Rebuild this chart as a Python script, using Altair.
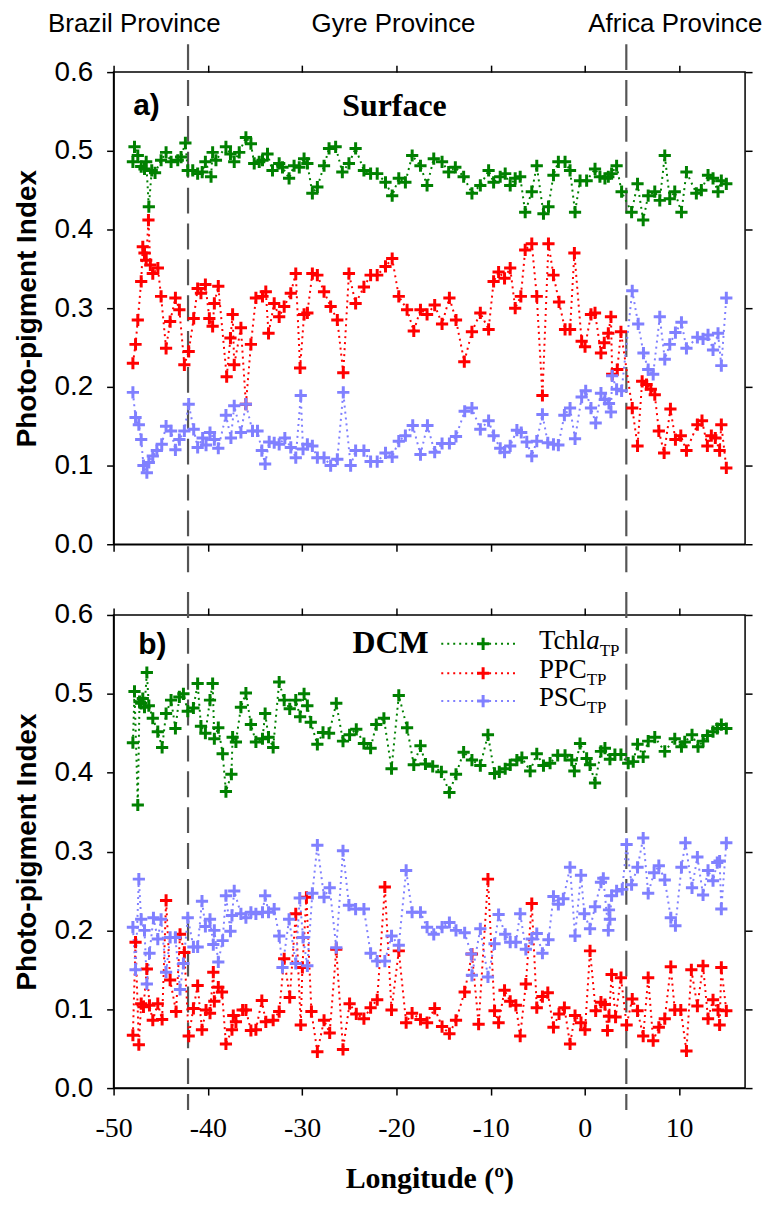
import altair as alt
import pandas as pd

# ---------------- data ----------------
series_names = ["Tchla", "PPC", "PSC"]
series_colors = ["#008000", "#ff0000", "#8080ff"]
x_ticks = [-50, -40, -30, -20, -10, 0, 10]
y_ticks = [0.0, 0.1, 0.2, 0.3, 0.4, 0.5, 0.6]
province_names = ["Brazil Province", "Gyre Province", "Africa Province"]
province_centers = [-47.8, -20.3, 9.6]
province_bounds = [-42.1, 4.4]

surf_tchla = [(-47.95,0.486),(-47.78,0.505),(-47.43,0.494),(-47.07,0.480),(-46.72,0.477),(-46.54,0.486),(-46.26,0.429),(-45.95,0.475),(-45.6,0.472),(-44.96,0.488),(-44.43,0.498),(-43.9,0.486),(-43.19,0.488),(-42.84,0.492),(-42.38,0.510),(-42.13,0.475),(-41.6,0.475),(-41.08,0.471),(-40.6,0.473),(-40.26,0.486),(-39.66,0.467),(-39.49,0.498),(-39.14,0.488),(-38.08,0.505),(-37.6,0.496),(-37.2,0.486),(-36.67,0.498),(-35.96,0.517),(-35.43,0.509),(-35.08,0.484),(-34.55,0.486),(-34.2,0.488),(-33.67,0.496),(-33.14,0.475),(-32.43,0.484),(-32.08,0.479),(-31.38,0.465),(-30.85,0.481),(-30.3,0.479),(-29.79,0.490),(-29.44,0.484),(-28.91,0.446),(-28.38,0.454),(-27.67,0.481),(-27.14,0.503),(-26.44,0.505),(-25.73,0.473),(-25.03,0.484),(-24.32,0.503),(-23.44,0.475),(-22.73,0.471),(-22.03,0.471),(-21.15,0.460),(-20.44,0.443),(-19.74,0.465),(-19.04,0.460),(-18.32,0.494),(-17.44,0.481),(-16.74,0.456),(-16.03,0.490),(-15.15,0.486),(-14.45,0.473),(-13.74,0.479),(-12.86,0.467),(-11.98,0.446),(-11.09,0.456),(-10.21,0.475),(-9.68,0.460),(-8.98,0.467),(-8.45,0.471),(-7.92,0.456),(-7.39,0.465),(-6.86,0.467),(-6.33,0.422),(-5.63,0.448),(-5.1,0.481),(-4.39,0.420),(-3.86,0.429),(-3.33,0.469),(-2.81,0.486),(-2.1,0.486),(-1.57,0.475),(-1.04,0.422),(-0.51,0.462),(0.19,0.462),(1.08,0.477),(1.6,0.467),(2.13,0.465),(2.49,0.467),(2.84,0.471),(3.37,0.481),(3.9,0.448),(4.96,0.422),(5.59,0.458),(6.19,0.412),(6.72,0.443),(7.42,0.448),(7.95,0.437),(8.48,0.494),(9.01,0.439),(9.54,0.448),(10.25,0.422),(10.78,0.473),(11.83,0.446),(12.36,0.450),(13.07,0.469),(13.6,0.465),(14.13,0.448),(14.48,0.462),(15.01,0.458)]

surf_ppc = [(-47.95,0.230),(-47.67,0.254),(-47.43,0.285),(-47.07,0.334),(-46.9,0.378),(-46.72,0.370),(-46.54,0.361),(-46.3,0.412),(-46.1,0.355),(-45.84,0.344),(-45.3,0.351),(-44.96,0.315),(-44.43,0.249),(-44.0,0.283),(-43.44,0.313),(-43.02,0.298),(-42.49,0.228),(-42.03,0.245),(-41.5,0.287),(-41.08,0.325),(-40.73,0.319),(-40.26,0.330),(-39.84,0.287),(-39.49,0.277),(-39.31,0.306),(-38.89,0.328),(-38.0,0.213),(-37.6,0.262),(-37.37,0.292),(-37.2,0.228),(-36.49,0.275),(-35.96,0.178),(-35.43,0.254),(-34.9,0.313),(-34.2,0.315),(-33.85,0.321),(-33.56,0.268),(-32.96,0.306),(-32.43,0.289),(-31.9,0.302),(-31.2,0.319),(-30.67,0.344),(-30.21,0.224),(-29.79,0.292),(-29.44,0.294),(-28.91,0.344),(-28.38,0.342),(-27.67,0.321),(-26.97,0.302),(-26.26,0.285),(-25.63,0.218),(-25.03,0.344),(-24.32,0.306),(-23.44,0.327),(-22.73,0.342),(-22.03,0.342),(-21.15,0.353),(-20.44,0.363),(-19.74,0.315),(-18.86,0.298),(-18.15,0.271),(-17.44,0.298),(-16.74,0.292),(-15.93,0.304),(-15.15,0.280),(-14.37,0.313),(-13.67,0.285),(-12.79,0.232),(-11.98,0.270),(-11.09,0.294),(-10.21,0.273),(-9.68,0.334),(-9.15,0.346),(-8.52,0.338),(-7.92,0.351),(-7.39,0.300),(-6.79,0.315),(-6.33,0.374),(-5.63,0.382),(-5.1,0.315),(-4.5,0.189),(-3.86,0.382),(-3.33,0.342),(-2.74,0.308),(-2.1,0.273),(-1.57,0.273),(-1.11,0.370),(-0.34,0.258),(0.02,0.251),(0.65,0.292),(1.08,0.294),(1.71,0.243),(2.06,0.256),(2.49,0.268),(2.77,0.289),(2.9,0.216),(3.44,0.222),(3.83,0.270),(5.03,0.173),(5.59,0.125),(6.08,0.207),(6.54,0.203),(7.0,0.197),(7.42,0.190),(7.85,0.144),(8.41,0.116),(9.08,0.172),(9.61,0.133),(10.18,0.138),(10.78,0.119),(11.94,0.152),(12.43,0.157),(13.0,0.125),(13.42,0.138),(13.84,0.135),(14.3,0.119),(14.48,0.152),(15.01,0.097)]

surf_psc = [(-47.95,0.193),(-47.67,0.161),(-47.32,0.152),(-47.07,0.133),(-46.83,0.100),(-46.47,0.091),(-46.26,0.104),(-45.84,0.112),(-45.41,0.119),(-44.89,0.127),(-44.43,0.150),(-43.9,0.144),(-43.44,0.120),(-43.02,0.133),(-42.49,0.144),(-42.03,0.178),(-41.5,0.146),(-41.08,0.123),(-40.55,0.135),(-40.19,0.126),(-39.77,0.142),(-39.31,0.133),(-38.89,0.122),(-38.08,0.164),(-37.55,0.135),(-37.2,0.176),(-36.49,0.142),(-35.96,0.178),(-35.26,0.144),(-34.73,0.144),(-34.27,0.119),(-33.92,0.102),(-33.49,0.130),(-32.96,0.129),(-32.43,0.127),(-31.83,0.135),(-31.2,0.123),(-30.67,0.110),(-30.14,0.189),(-29.9,0.121),(-29.44,0.127),(-28.91,0.125),(-28.38,0.110),(-27.67,0.110),(-26.97,0.100),(-26.26,0.108),(-25.63,0.193),(-24.85,0.100),(-24.32,0.119),(-23.44,0.119),(-22.73,0.105),(-22.03,0.105),(-21.15,0.116),(-20.44,0.111),(-19.74,0.131),(-19.04,0.138),(-18.26,0.151),(-17.44,0.114),(-16.7,0.151),(-15.93,0.117),(-15.15,0.128),(-14.37,0.128),(-13.67,0.137),(-12.75,0.169),(-11.98,0.173),(-11.09,0.146),(-10.21,0.157),(-9.68,0.138),(-8.98,0.122),(-8.52,0.117),(-7.92,0.125),(-7.21,0.145),(-6.75,0.142),(-6.16,0.130),(-5.63,0.112),(-5.1,0.131),(-4.5,0.165),(-3.93,0.129),(-3.33,0.127),(-2.81,0.126),(-2.17,0.164),(-1.57,0.173),(-1.04,0.134),(-0.34,0.187),(0.09,0.195),(0.65,0.173),(1.15,0.154),(1.71,0.192),(2.13,0.184),(2.56,0.179),(2.77,0.168),(2.9,0.214),(3.37,0.197),(3.9,0.195),(5.03,0.322),(5.66,0.280),(6.22,0.243),(6.72,0.222),(7.25,0.216),(7.95,0.289),(8.48,0.235),(9.01,0.254),(9.61,0.269),(10.25,0.282),(10.78,0.249),(11.94,0.263),(12.54,0.261),(13.07,0.266),(13.6,0.247),(14.13,0.268),(14.48,0.227),(15.01,0.313)]

dcm_tchla = [(-47.95,0.438),(-47.78,0.503),(-47.43,0.359),(-47.25,0.490),(-47.07,0.488),(-46.9,0.494),(-46.72,0.483),(-46.47,0.527),(-46.26,0.485),(-45.84,0.469),(-45.31,0.452),(-44.85,0.432),(-44.43,0.475),(-43.9,0.492),(-43.44,0.456),(-43.02,0.496),(-42.59,0.500),(-42.13,0.478),(-41.53,0.482),(-41.08,0.513),(-40.73,0.459),(-40.26,0.450),(-39.77,0.492),(-39.49,0.513),(-39.31,0.443),(-38.89,0.457),(-38.43,0.424),(-38.08,0.376),(-37.5,0.398),(-37.37,0.445),(-37.02,0.439),(-36.49,0.483),(-35.96,0.501),(-35.43,0.461),(-34.9,0.439),(-34.2,0.443),(-33.92,0.475),(-33.56,0.445),(-33.07,0.432),(-32.43,0.515),(-31.9,0.492),(-31.31,0.481),(-30.67,0.492),(-30.21,0.471),(-29.79,0.500),(-29.44,0.485),(-29.08,0.464),(-28.38,0.436),(-27.78,0.451),(-27.14,0.450),(-26.37,0.488),(-25.66,0.440),(-24.96,0.448),(-24.25,0.455),(-23.44,0.437),(-22.73,0.431),(-22.13,0.461),(-21.32,0.469),(-20.51,0.405),(-19.74,0.498),(-18.86,0.457),(-18.15,0.410),(-17.44,0.434),(-16.91,0.411),(-16.14,0.408),(-15.22,0.401),(-14.37,0.375),(-13.67,0.398),(-12.86,0.426),(-11.98,0.416),(-11.09,0.409),(-10.28,0.448),(-9.58,0.399),(-9.08,0.401),(-8.45,0.405),(-7.92,0.410),(-7.21,0.416),(-6.68,0.419),(-5.8,0.402),(-5.1,0.424),(-4.39,0.409),(-3.69,0.412),(-2.88,0.422),(-2.1,0.422),(-1.39,0.416),(-1.11,0.402),(-0.51,0.437),(0.19,0.418),(0.55,0.410),(1.08,0.387),(1.71,0.427),(2.13,0.431),(2.66,0.417),(3.19,0.423),(3.83,0.423),(4.6,0.412),(5.13,0.414),(5.59,0.436),(6.19,0.420),(6.72,0.440),(7.42,0.445),(8.48,0.427),(9.54,0.443),(10.25,0.433),(10.6,0.439),(11.37,0.448),(12.01,0.433),(12.54,0.440),(13.0,0.447),(13.6,0.452),(14.05,0.456),(14.48,0.461),(15.01,0.456)]

dcm_ppc = [(-47.95,0.067),(-47.67,0.185),(-47.32,0.055),(-47.07,0.107),(-46.83,0.103),(-46.47,0.151),(-46.19,0.105),(-45.84,0.086),(-45.31,0.107),(-44.85,0.087),(-44.43,0.238),(-44.0,0.137),(-43.37,0.097),(-42.95,0.195),(-42.49,0.172),(-42.03,0.066),(-41.53,0.101),(-41.08,0.130),(-40.62,0.074),(-40.19,0.099),(-39.77,0.095),(-39.42,0.147),(-39.31,0.110),(-38.89,0.128),(-38.5,0.122),(-38.08,0.056),(-37.44,0.074),(-37.3,0.092),(-37.02,0.084),(-36.31,0.099),(-35.96,0.099),(-35.43,0.073),(-34.9,0.074),(-34.27,0.111),(-33.85,0.084),(-33.07,0.086),(-32.43,0.097),(-31.9,0.164),(-31.31,0.115),(-30.67,0.221),(-30.14,0.080),(-29.97,0.153),(-29.54,0.242),(-29.01,0.097),(-28.38,0.046),(-27.67,0.086),(-27.07,0.070),(-26.37,0.176),(-25.66,0.049),(-24.96,0.107),(-24.25,0.094),(-23.44,0.088),(-22.73,0.102),(-22.03,0.112),(-21.22,0.255),(-20.51,0.099),(-19.74,0.174),(-18.96,0.083),(-18.33,0.095),(-17.44,0.087),(-16.74,0.083),(-15.93,0.101),(-15.15,0.078),(-14.37,0.069),(-13.67,0.086),(-12.75,0.122),(-11.98,0.170),(-11.27,0.081),(-10.28,0.265),(-9.58,0.098),(-9.15,0.083),(-8.52,0.124),(-7.92,0.110),(-7.32,0.105),(-6.86,0.066),(-6.26,0.132),(-5.63,0.234),(-5.1,0.102),(-4.5,0.116),(-3.93,0.121),(-3.33,0.077),(-2.74,0.094),(-2.17,0.102),(-1.57,0.056),(-1.04,0.092),(-0.41,0.083),(0.02,0.074),(0.55,0.174),(1.15,0.098),(1.71,0.109),(2.13,0.106),(2.4,0.073),(2.56,0.091),(2.84,0.144),(3.26,0.090),(3.83,0.140),(4.43,0.080),(5.03,0.113),(5.59,0.098),(6.19,0.066),(6.72,0.140),(7.25,0.060),(7.85,0.077),(8.48,0.088),(9.12,0.154),(9.54,0.099),(10.18,0.099),(10.78,0.047),(11.3,0.150),(11.94,0.104),(12.54,0.155),(13.07,0.088),(13.6,0.112),(14.13,0.099),(14.3,0.080),(14.48,0.153),(15.01,0.098)]

dcm_psc = [(-47.95,0.204),(-47.67,0.150),(-47.32,0.265),(-47.07,0.214),(-46.72,0.200),(-46.47,0.132),(-46.19,0.171),(-45.77,0.216),(-45.31,0.189),(-44.96,0.214),(-44.43,0.147),(-44.0,0.191),(-43.44,0.191),(-42.95,0.125),(-42.59,0.158),(-42.13,0.216),(-41.53,0.179),(-41.08,0.179),(-40.62,0.237),(-40.26,0.205),(-39.77,0.214),(-39.42,0.182),(-39.31,0.200),(-38.89,0.160),(-38.43,0.187),(-38.08,0.244),(-37.6,0.199),(-37.44,0.219),(-37.2,0.250),(-36.49,0.221),(-35.96,0.216),(-35.43,0.223),(-34.9,0.221),(-34.2,0.223),(-33.92,0.244),(-33.56,0.223),(-32.96,0.227),(-32.43,0.193),(-32.08,0.153),(-31.38,0.214),(-30.67,0.158),(-30.25,0.241),(-29.9,0.191),(-29.44,0.155),(-28.91,0.247),(-28.38,0.308),(-27.67,0.242),(-27.07,0.254),(-26.37,0.178),(-25.66,0.301),(-25.03,0.232),(-24.32,0.227),(-23.44,0.227),(-22.73,0.171),(-22.03,0.161),(-21.22,0.161),(-20.51,0.193),(-19.74,0.181),(-18.96,0.276),(-18.33,0.223),(-17.44,0.223),(-16.74,0.204),(-16.03,0.195),(-15.15,0.204),(-14.37,0.210),(-13.67,0.200),(-12.75,0.197),(-12.05,0.170),(-11.98,0.143),(-11.09,0.202),(-10.28,0.141),(-9.58,0.183),(-9.15,0.220),(-8.45,0.195),(-7.92,0.185),(-7.32,0.185),(-6.86,0.221),(-6.26,0.176),(-5.63,0.189),(-5.1,0.196),(-4.5,0.171),(-3.86,0.188),(-3.33,0.243),(-2.81,0.233),(-2.28,0.240),(-1.57,0.280),(-1.04,0.193),(-0.41,0.270),(-0.05,0.221),(0.55,0.202),(1.08,0.230),(1.71,0.261),(1.96,0.266),(2.49,0.200),(2.56,0.226),(2.66,0.214),(2.84,0.244),(3.37,0.250),(3.97,0.252),(4.43,0.309),(4.96,0.258),(5.59,0.280),(6.19,0.317),(6.72,0.247),(7.35,0.273),(7.85,0.282),(8.48,0.264),(9.12,0.216),(9.61,0.206),(10.25,0.280),(10.67,0.311),(11.37,0.254),(11.94,0.293),(12.54,0.245),(13.07,0.276),(13.6,0.263),(14.05,0.286),(14.3,0.288),(14.48,0.227),(15.01,0.311)]


def to_df(groups):
    rows = []
    for name, pairs in groups:
        for lon, v in pairs:
            rows.append({"lon": lon, "val": v, "series": name})
    return pd.DataFrame(rows)


surf_df = to_df([("Tchla", surf_tchla), ("PPC", surf_ppc), ("PSC", surf_psc)])
dcm_df = to_df([("Tchla", dcm_tchla), ("PPC", dcm_ppc), ("PSC", dcm_psc)])
bounds_df = pd.DataFrame({"lon": province_bounds})
prov_df = pd.DataFrame({"lon": province_centers, "name": province_names})
one = pd.DataFrame({"k": [0]})

SANS = "Liberation Sans"
SERIF = "Liberation Serif"
PLUS = "M-1,0L1,0M0,-1L0,1"
W = 634

x_scale = alt.Scale(domain=[-50, 17], nice=False, zero=False)
y_scale = alt.Scale(domain=[0, 0.6], nice=False)
c_scale = alt.Scale(domain=series_names, range=series_colors)


def panel(df, H, letter, title, title_x, title_y, letter_x, letter_y,
          bottom_labels, rule_top, rule_bot, provinces=False, legend=False):
    if bottom_labels:
        xb = alt.Axis(orient="bottom", values=x_ticks, tickSize=7, labelFlush=False,
                      labelOverlap=False, labelFont=SERIF, labelFontSize=28,
                      labelExpr="'' + datum.value",
                      labelPadding=20, labelColor="black",
                      title="Longitude (º)", titleFont=SERIF, titleFontSize=30,
                      titleFontWeight="bold", titlePadding=21, titleColor="black")
    else:
        xb = alt.Axis(orient="bottom", values=x_ticks, tickSize=7, labels=False, title=None)
    yl = alt.Axis(orient="left", values=y_ticks, format=".1f", tickSize=7,
                  labelFont=SANS, labelFontSize=28, labelPadding=14, labelColor="black",
                  title="Photo-pigment Index", titleFont=SANS, titleFontSize=28,
                  titleFontWeight="bold", titlePadding=12, titleColor="black")
    xt = alt.Axis(orient="top", values=x_ticks, tickSize=7, labels=False, title=None, domain=False)
    yr = alt.Axis(orient="right", values=y_ticks, tickSize=7, labels=False, title=None, domain=False)

    rules = alt.Chart(bounds_df).mark_rule(
        color="#555555", strokeWidth=2.2, strokeDash=[26, 10]
    ).encode(
        x=alt.X("lon:Q", scale=x_scale, axis=None),
        y=alt.value(rule_top), y2=alt.value(H + rule_bot),
    )
    lines = alt.Chart(df).mark_line(strokeDash=[2, 4], strokeWidth=2).encode(
        x=alt.X("lon:Q", scale=x_scale, axis=xb),
        y=alt.Y("val:Q", scale=y_scale, axis=yl),
        color=alt.Color("series:N", scale=c_scale, legend=None),
    )
    pts = alt.Chart(df).mark_point(shape=PLUS, size=150, filled=False,
                                    strokeWidth=3, opacity=1).encode(
        x=alt.X("lon:Q", scale=x_scale, axis=xt),
        y=alt.Y("val:Q", scale=y_scale, axis=yr),
        color=alt.Color("series:N", scale=c_scale, legend=None),
    )
    letter_t = alt.Chart(one).mark_text(
        text=letter, font=SANS, fontWeight="bold", fontSize=30,
        align="center", baseline="middle", color="black"
    ).encode(x=alt.value(letter_x), y=alt.value(letter_y))
    title_t = alt.Chart(one).mark_text(
        text=title, font=SERIF, fontWeight="bold", fontSize=32,
        align="center", baseline="middle", color="black"
    ).encode(x=alt.value(title_x), y=alt.value(title_y))
    layers = [rules, lines, pts, letter_t, title_t]
    if provinces:
        prov = alt.Chart(prov_df).mark_text(
            font=SANS, fontSize=26, align="center", baseline="middle", color="black"
        ).encode(
            x=alt.X("lon:Q", scale=x_scale, axis=None),
            y=alt.value(-48),
            text="name:N",
        )
        layers.append(prov)
    if legend:
        ys = [29, 58.5, 86.5]
        base_w = [47.5, 48.0, 48.0]
        for i, name in enumerate(series_names):
            col = series_colors[i]
            ly = ys[i]
            layers.append(alt.Chart(one).mark_rule(
                color=col, strokeDash=[2, 4], strokeWidth=2
            ).encode(x=alt.value(329), x2=alt.value(403), y=alt.value(ly)))
            layers.append(alt.Chart(one).mark_point(
                shape=PLUS, size=150, filled=False, strokeWidth=3, opacity=1, color=col
            ).encode(x=alt.value(371), y=alt.value(ly)))
            main = "Tchl" if name == "Tchla" else name
            layers.append(alt.Chart(one).mark_text(
                text=main, font=SERIF, fontSize=27, align="left",
                baseline="alphabetic", color="black"
            ).encode(x=alt.value(427), y=alt.value(ly + 5)))
            sub_x = 427 + base_w[i]
            if name == "Tchla":
                layers.append(alt.Chart(one).mark_text(
                    text="a", font=SERIF, fontSize=27, fontStyle="italic", align="left",
                    baseline="alphabetic", color="black"
                ).encode(x=alt.value(sub_x), y=alt.value(ly + 5)))
                sub_x += 13.5
            layers.append(alt.Chart(one).mark_text(
                text="TP", font=SERIF, fontSize=17, align="left",
                baseline="alphabetic", color="black"
            ).encode(x=alt.value(sub_x), y=alt.value(ly + 12)))
    return alt.layer(*layers).resolve_axis(x="independent", y="independent").properties(
        width=W, height=H
    )


top = panel(surf_df, 474, "a)", "Surface", 282, 34, 33, 34, False, -28, 28, provinces=True)
bot = panel(dcm_df, 475, "b)", "DCM", 278, 28, 39, 30, True, -23, 22, legend=True)

chart = alt.vconcat(top, bot, spacing=16).properties(
    padding={"left": 5, "top": 0, "right": 0, "bottom": 5}
).configure_view(
    stroke="black", strokeWidth=1.5
).configure_axis(
    grid=False, domainColor="black", domainWidth=1.5, tickColor="black", tickWidth=1.5
)

chart.save("out.html", embed_options={"renderer": "svg", "actions": False})
